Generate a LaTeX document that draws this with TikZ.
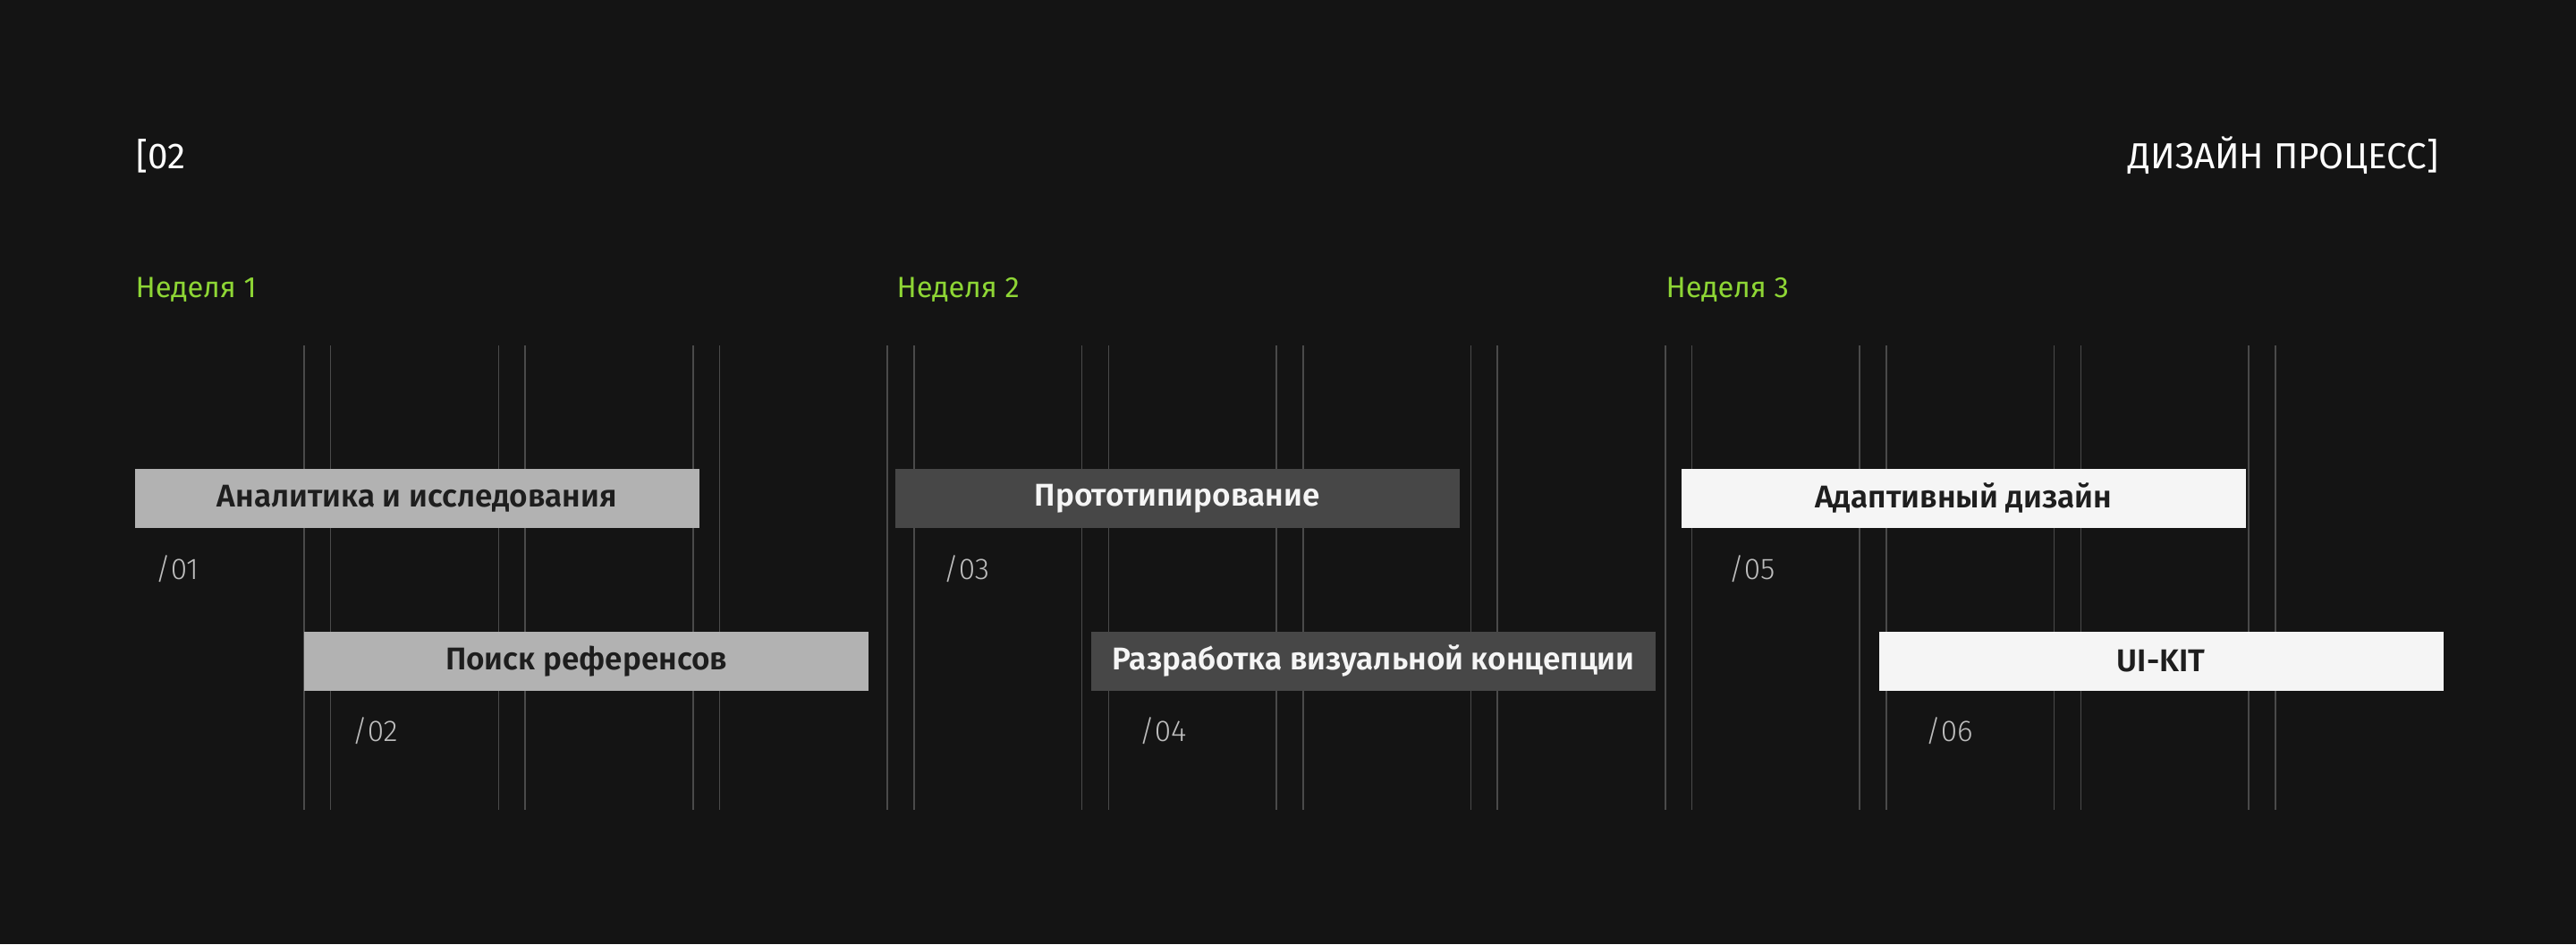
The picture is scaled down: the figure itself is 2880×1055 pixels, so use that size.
\documentclass[tikz,border=0pt]{standalone}
\usepackage{fontspec}
\setmainfont{Fira Sans}
\newfontfamily\semifont{Fira Sans SemiBold}
\newfontfamily\lightfont{Fira Sans Light}
\definecolor{bg}{HTML}{141414}
\definecolor{gridgray}{HTML}{4A4A4A}
\definecolor{weekgreen}{HTML}{8ED635}
\definecolor{numgray}{HTML}{BDBDBD}
\definecolor{barlight}{HTML}{B2B2B2}
\definecolor{bardark}{HTML}{474747}
\definecolor{barwhite}{HTML}{F5F5F5}
\definecolor{txtdark}{HTML}{1E1E1E}
\begin{document}
\begin{tikzpicture}[x=0.1mm,y=-0.1mm,
		bar/.style={rectangle,anchor=north west,minimum width=63.1mm,minimum height=6.6mm,inner sep=0pt,font=\semifont\fontsize{10}{12}\selectfont},
		num/.style={anchor=base west,inner sep=0pt,text=numgray,font=\lightfont\fontsize{9.5}{11}\selectfont},
		week/.style={anchor=base west,inner sep=0pt,text=weekgreen,font=\fontsize{9.3}{11}\selectfont},
		head/.style={inner sep=0pt,text=white,font=\fontsize{11.5}{13}\selectfont}]
		\fill[bg] (0,0) rectangle (2880,1055);
		\foreach \k in {0,...,10}{
			\draw[gridgray,line width=0.45pt] ({340+217.4*\k},386) -- ({340+217.4*\k},905);
			\draw[gridgray,line width=0.45pt] ({369.7+217.4*\k},386) -- ({369.7+217.4*\k},905);
		}
		\node[head,anchor=base west] (secnum) at (152,188) {[02};
		\node[head,anchor=base east] (sectitle) at (2727,188) {ДИЗАЙН ПРОЦЕСС]};
		\node[week] (week1) at (151,332) {Неделя 1};
		\node[week] (week2) at (1002,332) {Неделя 2};
		\node[week] (week3) at (1862,332) {Неделя 3};
		\node[bar,fill=barlight,text=txtdark] (bar1) at (150,523) {Аналитика и исследования};
		\node[bar,fill=barlight,text=txtdark] (bar2) at (339.5,705) {Поиск референсов};
		\node[bar,fill=bardark,text=barwhite] (bar3) at (1000,523) {Прототипирование};
		\node[bar,fill=bardark,text=barwhite] (bar4) at (1219.5,705) {Разработка визуальной концепции};
		\node[bar,fill=barwhite,text=txtdark] (bar5) at (1879,523) {Адаптивный дизайн};
		\node[bar,fill=barwhite,text=txtdark] (bar6) at (2100,705) {UI-KIT};
		\node[num] (num1) at (173,647) {/01};
		\node[num] (num2) at (393,828) {/02};
		\node[num] (num3) at (1054,647) {/03};
		\node[num] (num4) at (1273,828) {/04};
		\node[num] (num5) at (1932,647) {/05};
		\node[num] (num6) at (2152,828) {/06};
\end{tikzpicture}
\end{document}
